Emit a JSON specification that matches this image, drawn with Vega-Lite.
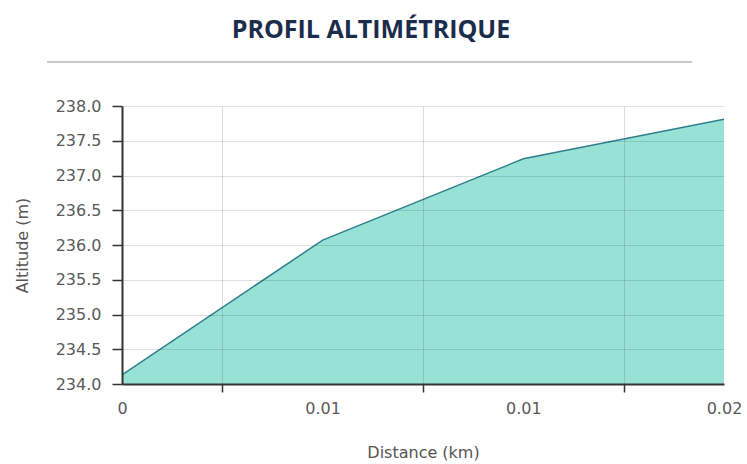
{
  "$schema": "https://vega.github.io/schema/vega-lite/v6.json",
  "background": "white",
  "padding": {"left": 14, "top": 18, "right": 2, "bottom": 2},
  "width": 602,
  "height": 278,
  "title": {
    "text": "PROFIL ALTIMÉTRIQUE",
    "font": "Open Sans",
    "fontWeight": "bold",
    "fontSize": 25,
    "color": "#1b2d4b",
    "anchor": "middle",
    "frame": "bounds",
    "offset": 18,
    "dx": -7
  },
  "config": {
    "view": {"stroke": null},
    "axis": {
      "labelFont": "DejaVu Sans",
      "labelFontSize": 16,
      "labelColor": "#5a5a5a",
      "titleFont": "DejaVu Sans",
      "titleFontSize": 16,
      "titleFontWeight": "normal",
      "titleColor": "#555555",
      "domainColor": "#333333",
      "domainWidth": 2,
      "tickColor": "#333333",
      "tickWidth": 1.5
    }
  },
  "data": {
    "values": [
      {"distance": 0, "altitude": 234.13},
      {"distance": 0.006, "altitude": 236.07},
      {"distance": 0.012, "altitude": 237.24},
      {"distance": 0.018, "altitude": 237.81}
    ]
  },
  "layer": [
    {
      "mark": {
        "type": "area",
        "color": "#98e2d5",
        "opacity": 1,
        "line": {"color": "#2f7f8e", "strokeWidth": 1.5}
      },
      "encoding": {
        "x": {
          "field": "distance",
          "type": "quantitative",
          "title": "Distance (km)",
          "scale": {"domain": [0, 0.018], "nice": false, "zero": false},
          "axis": {
            "values": [0, 0.003, 0.006, 0.009, 0.012, 0.015, 0.018],
            "labelExpr": "(abs(datum.value - 0.003) < 1e-6 || abs(datum.value - 0.009) < 1e-6 || abs(datum.value - 0.015) < 1e-6) ? '' : format(datum.value, '.2~f')",
            "labelPadding": 8,
            "labelFlush": false,
            "labelOverlap": false,
            "tickSize": 8,
            "tickOpacity": {"condition": {"test": "abs(datum.value - 0.003) < 1e-6 || abs(datum.value - 0.009) < 1e-6 || abs(datum.value - 0.015) < 1e-6", "value": 1}, "value": 0},
            "grid": true,
            "gridColor": "#000000",
            "gridOpacity": {"condition": {"test": "abs(datum.value - 0.003) < 1e-6 || abs(datum.value - 0.009) < 1e-6 || abs(datum.value - 0.015) < 1e-6", "value": 0.13}, "value": 0},
            "titlePadding": 28,
            "zindex": 1
          }
        },
        "y": {
          "field": "altitude",
          "type": "quantitative",
          "title": "Altitude (m)",
          "scale": {"domain": [234, 238], "nice": false, "zero": false},
          "axis": {
            "values": [234, 234.5, 235, 235.5, 236, 236.5, 237, 237.5, 238],
            "format": ".1f",
            "tickSize": 10,
            "labelPadding": 11,
            "grid": true,
            "gridColor": "#000000",
            "gridOpacity": 0.12,
            "titlePadding": 25,
            "zindex": 1
          }
        },
        "y2": {"datum": 234}
      }
    },
    {
      "mark": {"type": "rule", "color": "#c8c8c8", "strokeWidth": 2, "clip": false},
      "encoding": {
        "x": {
          "datum": -0.00223,
          "type": "quantitative",
          "title": "Distance (km)",
          "axis": {
            "values": [0, 0.003, 0.006, 0.009, 0.012, 0.015, 0.018],
            "labelExpr": "(abs(datum.value - 0.003) < 1e-6 || abs(datum.value - 0.009) < 1e-6 || abs(datum.value - 0.015) < 1e-6) ? '' : format(datum.value, '.2~f')",
            "labelPadding": 8,
            "labelFlush": false,
            "labelOverlap": false,
            "tickSize": 8,
            "tickOpacity": {"condition": {"test": "abs(datum.value - 0.003) < 1e-6 || abs(datum.value - 0.009) < 1e-6 || abs(datum.value - 0.015) < 1e-6", "value": 1}, "value": 0},
            "grid": true,
            "gridColor": "#000000",
            "gridOpacity": {"condition": {"test": "abs(datum.value - 0.003) < 1e-6 || abs(datum.value - 0.009) < 1e-6 || abs(datum.value - 0.015) < 1e-6", "value": 0.13}, "value": 0},
            "titlePadding": 28,
            "zindex": 1
          }
        },
        "x2": {"datum": 0.01703},
        "y": {
          "datum": 238.633,
          "type": "quantitative",
          "title": "Altitude (m)",
          "axis": {
            "values": [234, 234.5, 235, 235.5, 236, 236.5, 237, 237.5, 238],
            "format": ".1f",
            "tickSize": 10,
            "labelPadding": 11,
            "grid": true,
            "gridColor": "#000000",
            "gridOpacity": 0.12,
            "titlePadding": 25,
            "zindex": 1
          }
        }
      }
    }
  ]
}
